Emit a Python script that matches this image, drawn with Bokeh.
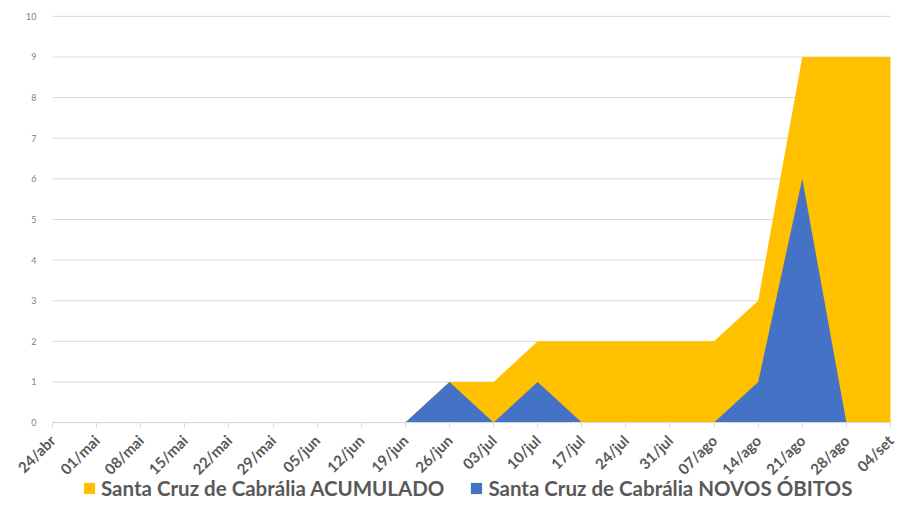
import math
from bokeh.plotting import figure
from bokeh.models import (ColumnDataSource, Range1d, FixedTicker, Legend, LegendItem)
from bokeh.embed import file_html
from bokeh.resources import INLINE

# Weekly dates (x axis)
weeks = ["24/abr", "01/mai", "08/mai", "15/mai", "22/mai", "29/mai", "05/jun",
         "12/jun", "19/jun", "26/jun", "03/jul", "10/jul", "17/jul", "24/jul",
         "31/jul", "07/ago", "14/ago", "21/ago", "28/ago", "04/set"]

# Cumulative deaths
acumulado = [0, 0, 0, 0, 0, 0, 0, 0, 0, 1, 1, 2, 2, 2, 2, 2, 3, 9, 9, 9]
# New deaths per week
novos_obitos = [0, 0, 0, 0, 0, 0, 0, 0, 0, 1, 0, 1, 0, 0, 0, 0, 1, 6, 0, 0]

series_names = ["Santa Cruz de Cabrália ACUMULADO",
                "Santa Cruz de Cabrália NOVOS ÓBITOS"]

y_ticks = list(range(0, 11))

ORANGE = "#FFC000"
BLUE = "#4472C4"
TEXT = "#595959"
GRID = "#d9d9d9"
FONT = "Lato"

# The frame fills the whole page; the margins around the data area
# (tick labels, legend) are made by padding the ranges.
n = len(weeks)
X_RANGE = (-1.179, n - 1 + 0.159)
Y_RANGE = (-2.04, 10.39)

xs = list(range(n))
src = ColumnDataSource(dict(x=xs, acc=acumulado, novos=novos_obitos,
                            zero=[0] * n))

p = figure(width=897, height=505,
           x_range=Range1d(*X_RANGE), y_range=Range1d(*Y_RANGE),
           output_backend="svg", toolbar_location=None,
           min_border=0, min_border_left=0, min_border_top=0,
           min_border_right=0, min_border_bottom=0)
p.outline_line_color = None
p.background_fill_color = "white"
p.border_fill_color = "white"
p.xgrid.grid_line_color = None
p.ygrid.grid_line_color = None

# horizontal gridlines across the data span only
p.segment(x0=[0] * len(y_ticks), x1=[n - 1] * len(y_ticks),
          y0=y_ticks, y1=y_ticks, line_color=GRID, line_width=1)

r_acc = p.varea(x="x", y1="zero", y2="acc", source=src, fill_color=ORANGE)
r_new = p.varea(x="x", y1="zero", y2="novos", source=src, fill_color=BLUE)

# x axis drawn at y = 0, dates rotated 45 degrees
xa = p.xaxis[0]
xa.fixed_location = 0
xa.bounds = (0, n - 1)
xa.ticker = FixedTicker(ticks=xs)
xa.major_label_overrides = {i: w for i, w in enumerate(weeks)}
xa.major_label_orientation = math.pi / 4
xa.major_label_text_font = FONT
xa.major_label_text_font_style = "bold"
xa.major_label_text_font_size = "15px"
xa.major_label_text_color = TEXT
xa.axis_line_color = GRID
xa.major_tick_line_color = GRID
xa.major_tick_out = 5
xa.major_tick_in = 0
xa.minor_tick_line_color = None
xa.major_label_standoff = 10

# y axis at x = 0: labels only
ya = p.yaxis[0]
ya.fixed_location = 0
ya.bounds = (0, 10)
ya.ticker = FixedTicker(ticks=y_ticks)
ya.axis_line_color = None
ya.major_tick_line_color = None
ya.minor_tick_line_color = None
ya.major_label_text_font = FONT
ya.major_label_text_font_size = "9px"
ya.major_label_text_color = "#7f7f7f"
ya.major_label_standoff = 10

legend = Legend(items=[
    LegendItem(label=series_names[0], renderers=[r_acc]),
    LegendItem(label=series_names[1], renderers=[r_new]),
], orientation="horizontal", location=(82, 5))
legend.label_text_font = FONT
legend.label_text_font_style = "bold"
legend.label_text_font_size = "20.5px"
legend.label_text_color = TEXT
legend.label_height = 14
legend.glyph_width = 14
legend.glyph_height = 14
legend.label_standoff = 5
legend.spacing = 25
legend.padding = 0
legend.margin = 0
legend.border_line_color = None
legend.background_fill_alpha = 0
p.add_layout(legend, "center")

open("out.html", "w").write(file_html(p, INLINE))
